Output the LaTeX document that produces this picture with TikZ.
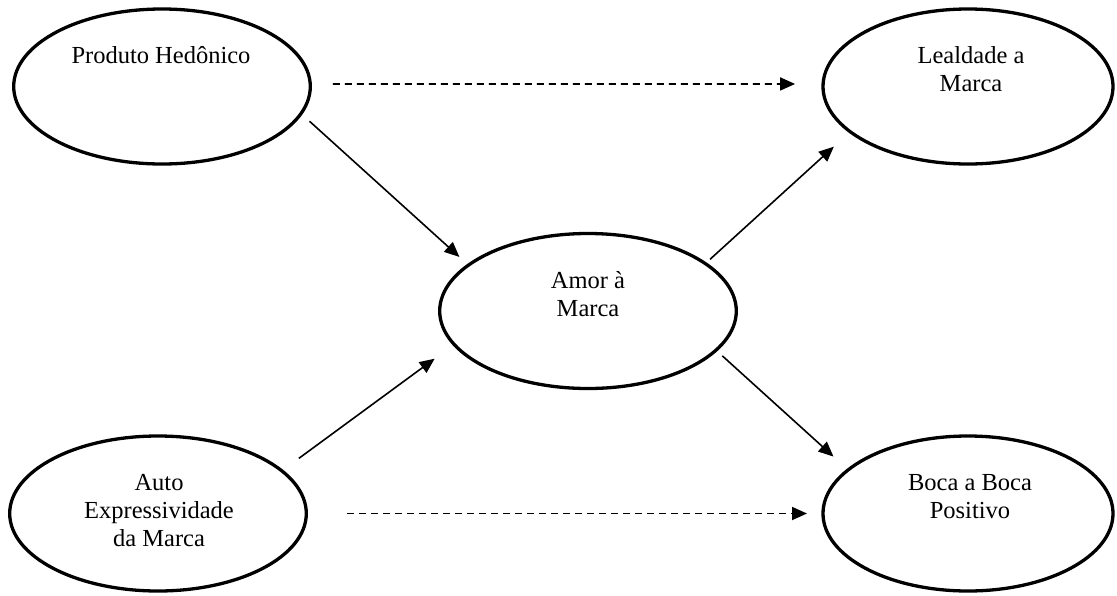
\documentclass[tikz,border=0pt]{standalone}
\usepackage{fontspec}
\setmainfont{Liberation Serif}
\usetikzlibrary{arrows.meta,shapes.geometric}
% stacked, centred lines whose baseline is that of the first line
\newcommand\celltext[1]{\begin{tabular}[t]{@{}c@{}}#1\end{tabular}}

\begin{document}
\begin{tikzpicture}[x=1pt,y=-1pt,
  bubble/.style={ellipse, draw, line width=3.3pt, minimum width=296.6pt,
    minimum height=155pt, inner sep=0pt, outer sep=0pt},
  wide/.style={bubble, minimum width=290pt},
  lbl/.style={anchor=base, inner sep=0pt, font=\fontsize{24.5}{28}\selectfont},
  link/.style={line width=1.6pt, -{Triangle[length=15pt,width=13pt]}},
  hint/.style={link, line width=1.8pt, dash pattern=on 7pt off 5pt}]

\useasboundingbox (0,0) rectangle (1117,595);
\fill[white] (0,0) rectangle (1117,595);

% constructs
\node[bubble] (ph) at (162,86.5) {};
\node[wide]   (lm) at (968,86.5) {};
\node[bubble] (am) at (588,311) {};
\node[bubble] (ae) at (158,513.5) {};
\node[wide]   (bb) at (968,513.5) {};

% their names
\node[lbl] (phT) at (161,63)  {\celltext{Produto Hedônico}};
\node[lbl] (lmT) at (971,63)  {\celltext{Lealdade a\\Marca}};
\node[lbl] (amT) at (588,288) {\celltext{Amor à\\Marca}};
\node[lbl] (aeT) at (159,490) {\celltext{Auto\\Expressividade\\da Marca}};
\node[lbl] (bbT) at (970,490) {\celltext{Boca a Boca\\Positivo}};

% hypothesised paths
\draw[link, shorten <=11.5pt, shorten >=12.2pt] (ph.-11.3) -- (am.159.7);
\draw[link, shorten <=6.4pt,  shorten >=22.2pt] (am.22.9)  -- (lm.-159.3);
\draw[link, shorten <=21.1pt, shorten >=24.2pt] (ae.19.9)  -- (am.-166.3);
\draw[link, shorten <=8.5pt,  shorten >=19.8pt] (am.-17.7) -- (bb.160.2);
\draw[hint, shorten <=22.7pt, shorten >=28pt]   (ph.1)     -- (lm.179);
\draw[hint, shorten <=40.7pt, shorten >=16pt]   (ae.east)  -- (bb.west);
\end{tikzpicture}
\end{document}
